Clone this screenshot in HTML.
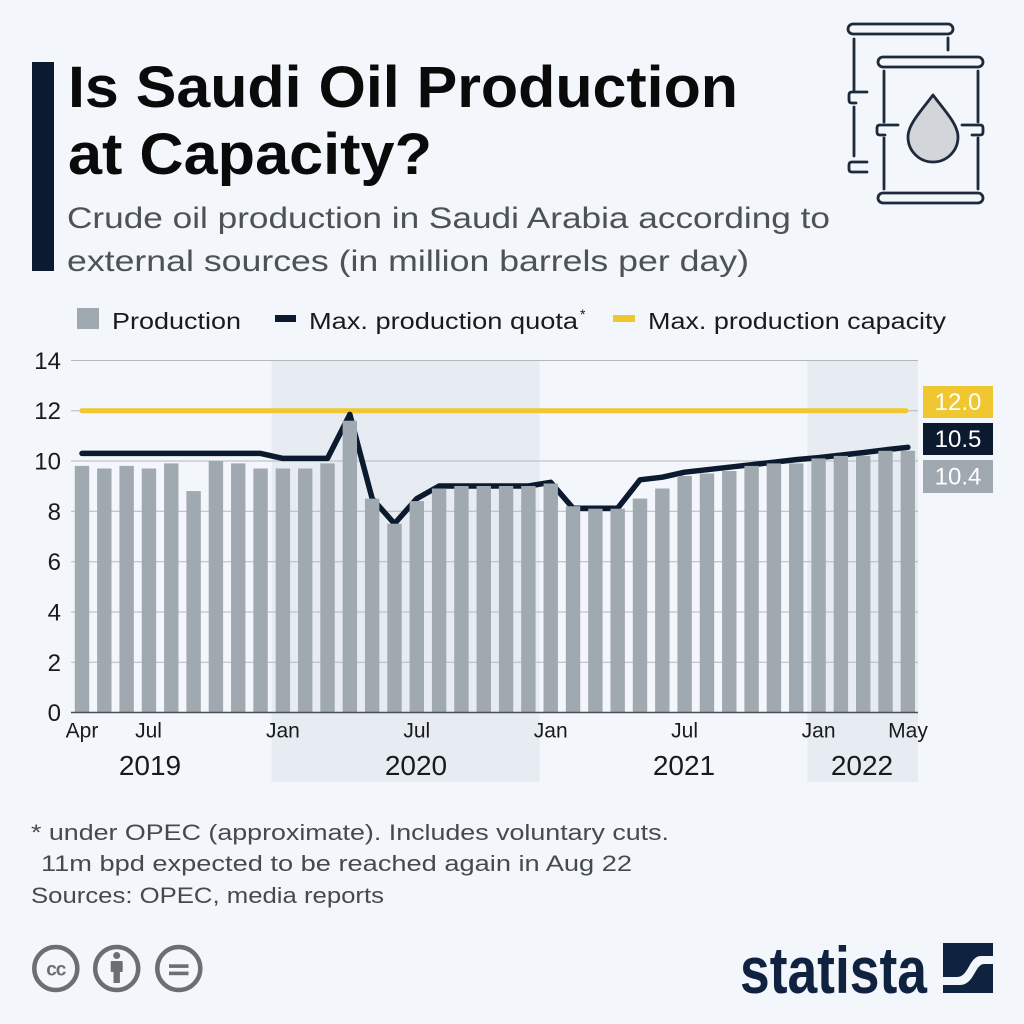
<!DOCTYPE html>
<html><head><meta charset="utf-8"><style>
html,body{margin:0;padding:0;background:#f3f6fa;}
svg{display:block;}
text{font-family:"Liberation Sans",sans-serif;}
</style></head><body>
<svg width="1024" height="1024" viewBox="0 0 1024 1024" xmlns="http://www.w3.org/2000/svg">
<rect x="0" y="0" width="1024" height="1024" fill="#f3f6fa"/>
<!-- header -->
<rect x="32" y="62" width="22" height="209" fill="#0b1a2e"/>
<text x="68" y="107" font-size="58" font-weight="bold" fill="#0a0a0a" textLength="670" lengthAdjust="spacingAndGlyphs">Is Saudi Oil Production</text>
<text x="68" y="174" font-size="58" font-weight="bold" fill="#0a0a0a" textLength="364" lengthAdjust="spacingAndGlyphs">at Capacity?</text>
<text x="67" y="228" font-size="30" fill="#4d5259" textLength="763" lengthAdjust="spacingAndGlyphs">Crude oil production in Saudi Arabia according to</text>
<text x="67" y="271" font-size="30" fill="#4d5259" textLength="682" lengthAdjust="spacingAndGlyphs">external sources (in million barrels per day)</text>

<!-- barrel icon -->
<g fill="none" stroke="#1d2a3b" stroke-width="2.8" stroke-linecap="round" stroke-linejoin="round">
<rect x="848" y="24" width="105" height="10" rx="5"/>
<line x1="854" y1="39" x2="854" y2="91"/>
<path d="M867,92 L852,92 Q849,92 849,95 L849,100 Q849,103 852,103 L856,103"/>
<line x1="854" y1="107" x2="854" y2="156"/>
<path d="M867,162 L852,162 Q849,162 849,165 L849,169 Q849,172 852,172 L867,172"/>
<line x1="948" y1="38" x2="948" y2="50"/>
<rect x="878" y="57" width="105" height="10" rx="5"/>
<rect x="878" y="193" width="105" height="10" rx="5"/>
<line x1="884" y1="71" x2="884" y2="122"/>
<line x1="884" y1="138" x2="884" y2="189"/>
<line x1="978" y1="71" x2="978" y2="122"/>
<line x1="978" y1="138" x2="978" y2="189"/>
<path d="M898,125 L880,125 Q877,125 877,128 L877,132 Q877,135 880,135 L885,135"/>
<path d="M962,125 L980,125 Q983,125 983,128 L983,132 Q983,135 980,135 L972,135"/>
<path d="M933,95 C922,110 908,124 908,137 A25,25 0 0 0 958,137 C958,124 944,110 933,95 Z" fill="#d2d5da"/>
</g>

<!-- legend -->
<rect x="77" y="308" width="22" height="21" fill="#a0a8b0"/>
<text x="112" y="329" font-size="23" fill="#1a1a1a" textLength="129" lengthAdjust="spacingAndGlyphs">Production</text>
<rect x="275" y="315" width="21" height="7" fill="#0b1a2e"/>
<text x="309" y="329" font-size="23" fill="#1a1a1a" textLength="269" lengthAdjust="spacingAndGlyphs">Max. production quota</text>
<text x="580" y="319" font-size="14" fill="#1a1a1a">*</text>
<rect x="613" y="315" width="22" height="7" fill="#f0c730"/>
<text x="648" y="329" font-size="23" fill="#1a1a1a" textLength="298" lengthAdjust="spacingAndGlyphs">Max. production capacity</text>

<!-- shading -->
<rect x="271.7" y="360" width="267.8" height="422" fill="#e7ecf3"/>
<rect x="807.4" y="360" width="110.6" height="422" fill="#e7ecf3"/>

<!-- gridlines -->
<g stroke="#b3b8be" stroke-width="1">
<line x1="71" y1="360.5" x2="918" y2="360.5"/>
<line x1="71" y1="410.7" x2="918" y2="410.7"/>
<line x1="71" y1="461" x2="918" y2="461"/>
<line x1="71" y1="511.3" x2="918" y2="511.3"/>
<line x1="71" y1="561.7" x2="918" y2="561.7"/>
<line x1="71" y1="612" x2="918" y2="612"/>
<line x1="71" y1="662.3" x2="918" y2="662.3"/>
</g>

<!-- y labels -->
<g font-size="24" fill="#1a1a1a" text-anchor="end">
<text x="61" y="369">14</text>
<text x="61" y="419">12</text>
<text x="61" y="469.5">10</text>
<text x="61" y="520">8</text>
<text x="61" y="570">6</text>
<text x="61" y="620.5">4</text>
<text x="61" y="671">2</text>
<text x="61" y="721">0</text>
</g>

<!-- capacity line -->
<line x1="82" y1="410.7" x2="906" y2="410.7" stroke="#f0c730" stroke-width="5" stroke-linecap="round"/>

<!-- quota line -->
<path d="M82,453.4 L260.56,453.4 L282.88,458.4 L327.52,458.4 L349.84,414.4 L372.16,498.6 L394.48,523.7 L416.8,498.6 L439.12,486 L528.4,486 L550.72,482.3 L573.04,508.2 L617.68,508.2 L640,479.8 L662.32,477.2 L684.64,472.2 L706.96,469.7 L729.28,467.2 L751.6,464.7 L773.92,462.2 L796.24,459.6 L818.56,457.6 L840.88,455.1 L863.2,452.6 L885.52,449.8 L907.84,447.3" fill="none" stroke="#0b1a2e" stroke-width="5.5" stroke-linejoin="round" stroke-linecap="round"/>

<!-- bars -->
<g fill="#a0a8b0">
<rect x="74.80" y="465.9" width="14.4" height="246.4"/>
<rect x="97.12" y="468.5" width="14.4" height="243.8"/>
<rect x="119.44" y="465.9" width="14.4" height="246.4"/>
<rect x="141.76" y="468.5" width="14.4" height="243.8"/>
<rect x="164.08" y="463.4" width="14.4" height="248.9"/>
<rect x="186.40" y="491.1" width="14.4" height="221.2"/>
<rect x="208.72" y="460.9" width="14.4" height="251.4"/>
<rect x="231.04" y="463.4" width="14.4" height="248.9"/>
<rect x="253.36" y="468.5" width="14.4" height="243.8"/>
<rect x="275.68" y="468.5" width="14.4" height="243.8"/>
<rect x="298.00" y="468.5" width="14.4" height="243.8"/>
<rect x="320.32" y="463.4" width="14.4" height="248.9"/>
<rect x="342.64" y="420.7" width="14.4" height="291.6"/>
<rect x="364.96" y="498.6" width="14.4" height="213.7"/>
<rect x="387.28" y="523.7" width="14.4" height="188.6"/>
<rect x="409.60" y="501.1" width="14.4" height="211.2"/>
<rect x="431.92" y="488.5" width="14.4" height="223.8"/>
<rect x="454.24" y="486.0" width="14.4" height="226.3"/>
<rect x="476.56" y="486.0" width="14.4" height="226.3"/>
<rect x="498.88" y="486.0" width="14.4" height="226.3"/>
<rect x="521.20" y="486.0" width="14.4" height="226.3"/>
<rect x="543.52" y="483.5" width="14.4" height="228.8"/>
<rect x="565.84" y="506.2" width="14.4" height="206.1"/>
<rect x="588.16" y="508.7" width="14.4" height="203.6"/>
<rect x="610.48" y="508.7" width="14.4" height="203.6"/>
<rect x="632.80" y="498.6" width="14.4" height="213.7"/>
<rect x="655.12" y="488.5" width="14.4" height="223.8"/>
<rect x="677.44" y="476.0" width="14.4" height="236.3"/>
<rect x="699.76" y="473.5" width="14.4" height="238.8"/>
<rect x="722.08" y="471.0" width="14.4" height="241.3"/>
<rect x="744.40" y="465.9" width="14.4" height="246.4"/>
<rect x="766.72" y="463.4" width="14.4" height="248.9"/>
<rect x="789.04" y="463.4" width="14.4" height="248.9"/>
<rect x="811.36" y="458.4" width="14.4" height="253.9"/>
<rect x="833.68" y="455.9" width="14.4" height="256.4"/>
<rect x="856.00" y="455.9" width="14.4" height="256.4"/>
<rect x="878.32" y="450.8" width="14.4" height="261.5"/>
<rect x="900.64" y="450.8" width="14.4" height="261.5"/>
</g>

<!-- axis baseline -->
<line x1="71" y1="712.5" x2="918" y2="712.5" stroke="#4a4f55" stroke-width="1.5"/>

<!-- right value labels -->
<rect x="923" y="386" width="70" height="32" fill="#f0c730"/>
<text x="958" y="410" font-size="24" fill="#ffffff" text-anchor="middle">12.0</text>
<rect x="923" y="423" width="70" height="32" fill="#0b1a2e"/>
<text x="958" y="447" font-size="24" fill="#ffffff" text-anchor="middle">10.5</text>
<rect x="923" y="460" width="70" height="33" fill="#a0a8b0"/>
<text x="958" y="484.5" font-size="24" fill="#ffffff" text-anchor="middle">10.4</text>

<!-- x labels -->
<g font-size="21" fill="#1a1a1a" text-anchor="middle">
<text x="82" y="737.5">Apr</text>
<text x="148.5" y="737.5">Jul</text>
<text x="282.9" y="737.5">Jan</text>
<text x="416.8" y="737.5">Jul</text>
<text x="550.7" y="737.5">Jan</text>
<text x="684.6" y="737.5">Jul</text>
<text x="818.6" y="737.5">Jan</text>
<text x="908" y="737.5">May</text>
</g>
<g font-size="28" fill="#1a1a1a" text-anchor="middle">
<text x="150" y="775">2019</text>
<text x="416" y="775">2020</text>
<text x="684" y="775">2021</text>
<text x="862" y="775">2022</text>
</g>

<!-- footnotes -->
<text x="31" y="840" font-size="22.5" fill="#454a50" textLength="638" lengthAdjust="spacingAndGlyphs">* under OPEC (approximate). Includes voluntary cuts.</text>
<text x="41" y="871" font-size="22.5" fill="#454a50" textLength="591" lengthAdjust="spacingAndGlyphs">11m bpd expected to be reached again in Aug 22</text>
<text x="31" y="903" font-size="22.5" fill="#454a50" textLength="353" lengthAdjust="spacingAndGlyphs">Sources: OPEC, media reports</text>

<!-- CC icons -->
<g fill="none" stroke="#6c6f72" stroke-width="4.5">
<circle cx="55.8" cy="968.5" r="21.5"/>
<circle cx="116.7" cy="968.5" r="21.5"/>
<circle cx="178.8" cy="968.5" r="21.5"/>
</g>
<text x="55.8" y="975.5" font-size="19" font-weight="bold" fill="#6c6f72" text-anchor="middle" letter-spacing="-1">cc</text>
<g fill="#6c6f72">
<circle cx="116.7" cy="955.5" r="3.5"/>
<rect x="110.7" y="961" width="12" height="11" rx="1"/>
<rect x="113.5" y="970" width="6.4" height="13"/>
<rect x="169" y="964.3" width="19.5" height="3.6"/>
<rect x="169" y="971.6" width="19.5" height="3.6"/>
</g>

<!-- statista logo -->
<text x="740" y="993" font-size="66" font-weight="bold" fill="#0f2340" textLength="187" lengthAdjust="spacingAndGlyphs">statista</text>
<rect x="943" y="943" width="50" height="50" fill="#0f2340"/>
<path d="M943,977 L957,977 C969,977 969,956 981,956 L993,956 L993,964 L984,964 C975,964 974,985 960,985 L943,985 Z" fill="#f3f6fa"/>
</svg>
</body></html>
